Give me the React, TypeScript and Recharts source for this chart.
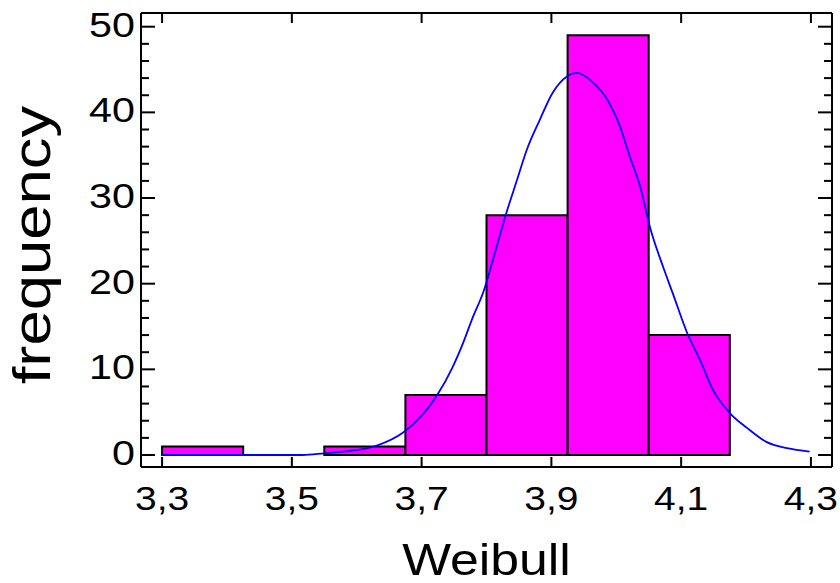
import React from 'react';
import {
  ComposedChart,
  Line,
  XAxis,
  YAxis,
  ReferenceArea,
} from 'recharts';

// histogram bins (start of each bin) and counts
const binStarts = [3.3, 3.425, 3.55, 3.675, 3.8, 3.925, 4.05];
const binCounts = [1, 0, 1, 7, 28, 49, 14];
const binWidth = 0.125;

// fitted Weibull curve
const curveX = [
  3.3, 3.4, 3.517, 3.55, 3.579, 3.631, 3.671, 3.69, 3.724, 3.748, 3.764, 3.779,
  3.795, 3.81, 3.832, 3.847, 3.862, 3.882, 3.902, 3.924, 3.939, 3.964, 3.986,
  4.006, 4.021, 4.037, 4.052, 4.072, 4.087, 4.109, 4.129, 4.149, 4.175, 4.201,
  4.232, 4.263, 4.298,
];
const curveY = [
  0, 0, 0, 0.2, 0.4, 1.1, 2.6, 3.8, 7.0, 10.3, 13.1, 16.1, 19.0, 22.8, 28.6,
  32.1, 35.6, 39.1, 42.3, 44.2, 44.6, 43.5, 41.5, 38.3, 34.8, 31.3, 26.6, 22.0,
  18.9, 14.3, 11.1, 7.6, 4.9, 3.2, 1.5, 0.8, 0.4,
];

const xTicks = [3.3, 3.5, 3.7, 3.9, 4.1, 4.3];
const yTicks = [0, 2, 4, 6, 8, 10, 12, 14, 16, 18, 20, 22, 24, 26, 28, 30, 32, 34, 36, 38, 40, 42, 44, 46, 48, 50];
const xDomain = [3.2675, 4.3325];
const yDomain = [-1.4, 51.6];

const data = curveX.map((x, i) => ({ x, y: curveY[i] }));

const FONT = '"Liberation Sans", Arial, sans-serif';

const fmtX = (v: number) => v.toFixed(1).replace('.', ',');

function BottomTick({ x, y, payload }: any) {
  return (
    <g>
      <line x1={x} x2={x} y1={y} y2={y - 10} stroke="#000" strokeWidth={2} />
      <g transform={`translate(${x},${y + 43}) scale(1.18,1)`}>
        <text x={0} y={0} textAnchor="middle" fontSize={33} fontFamily={FONT} fill="#000">
          {fmtX(payload.value)}
        </text>
      </g>
    </g>
  );
}

function TopTick({ x, y }: any) {
  return <line x1={x} x2={x} y1={y} y2={y + 10} stroke="#000" strokeWidth={2} />;
}

function LeftTick({ x, y, payload }: any) {
  const major = payload.value % 10 === 0;
  return (
    <g>
      <line x1={x} x2={x + (major ? 14 : 8)} y1={y} y2={y} stroke="#000" strokeWidth={2} />
      {major && (
        <g transform={`translate(${x - 6},${y + 10}) scale(1.18,1)`}>
          <text x={0} y={0} textAnchor="end" fontSize={35} fontFamily={FONT} fill="#000">
            {payload.value}
          </text>
        </g>
      )}
    </g>
  );
}

function RightTick({ x, y, payload }: any) {
  const major = payload.value % 10 === 0;
  return <line x1={x} x2={x - (major ? 14 : 8)} y1={y} y2={y} stroke="#000" strokeWidth={2} />;
}

const XTitle = ({ viewBox }: any) => (
  <g transform={`translate(${viewBox.x + viewBox.width / 2},${viewBox.y + 108}) scale(1.15,1)`}>
    <text x={0} y={0} textAnchor="middle" fontSize={45} fontFamily={FONT} fill="#000">
      Weibull
    </text>
  </g>
);

const YTitle = ({ viewBox }: any) => (
  <g transform={`translate(50,${viewBox.y + viewBox.height / 2 + 5}) rotate(-90) scale(1.22,1)`}>
    <text x={0} y={0} textAnchor="middle" fontSize={52} fontFamily={FONT} fill="#000">
      frequency
    </text>
  </g>
);

const axisLine = { stroke: '#000', strokeWidth: 2 };

export default function App() {
  return (
    <div style={{ position: 'absolute', left: 0, top: 0, width: 840, height: 583, background: '#fff' }}>
      <ComposedChart width={840} height={583} data={data} margin={{ top: 0, right: 0, bottom: 0, left: 0 }}>
        <XAxis
          xAxisId="b"
          dataKey="x"
          type="number"
          domain={xDomain}
          allowDataOverflow
          ticks={xTicks}
          interval={0}
          height={116}
          tickSize={0}
          tickMargin={0}
          tickLine={false}
          axisLine={axisLine}
          tick={(p: any) => <BottomTick {...p} />}
          label={{ content: (p: any) => <XTitle {...p} /> }}
        />
        <XAxis
          xAxisId="t"
          orientation="top"
          dataKey="x"
          type="number"
          domain={xDomain}
          allowDataOverflow
          ticks={xTicks}
          interval={0}
          height={13}
          tickSize={0}
          tickMargin={0}
          tickLine={false}
          axisLine={axisLine}
          tick={(p: any) => <TopTick {...p} />}
        />
        <YAxis
          yAxisId="l"
          type="number"
          domain={yDomain}
          allowDataOverflow
          ticks={yTicks}
          interval={0}
          width={141}
          tickSize={0}
          tickMargin={0}
          tickLine={false}
          axisLine={axisLine}
          tick={(p: any) => <LeftTick {...p} />}
          label={{ content: (p: any) => <YTitle {...p} /> }}
        />
        <YAxis
          yAxisId="r"
          orientation="right"
          type="number"
          domain={yDomain}
          allowDataOverflow
          ticks={yTicks}
          interval={0}
          width={8}
          tickSize={0}
          tickMargin={0}
          tickLine={false}
          axisLine={axisLine}
          tick={(p: any) => <RightTick {...p} />}
        />
        {binStarts.map((s, i) =>
          binCounts[i] > 0 ? (
            <ReferenceArea
              key={i}
              xAxisId="b"
              yAxisId="l"
              x1={s}
              x2={s + binWidth}
              y1={0}
              y2={binCounts[i]}
              fill="#ff00ff"
              fillOpacity={1}
              stroke="#000"
              strokeWidth={2}
              strokeOpacity={1}
            />
          ) : null
        )}
        <Line
          xAxisId="b"
          yAxisId="l"
          dataKey="y"
          type="monotone"
          stroke="#0000ff"
          strokeWidth={1.8}
          dot={false}
          activeDot={false}
          isAnimationActive={false}
        />
      </ComposedChart>
    </div>
  );
}
